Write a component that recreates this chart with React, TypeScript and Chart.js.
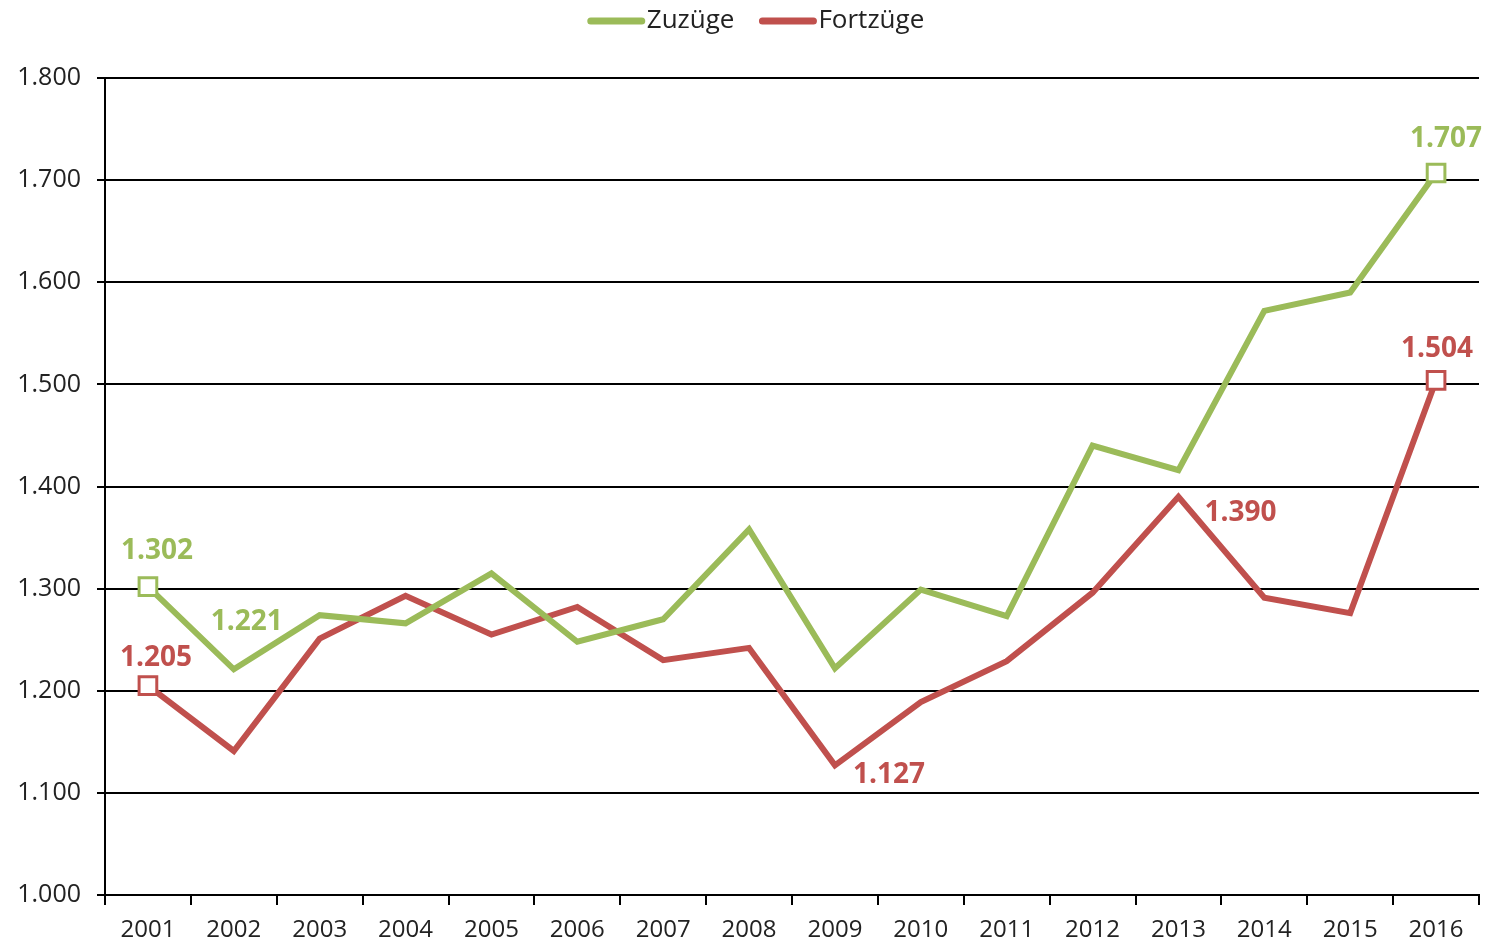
import React, { useEffect, useRef } from "react";
import { Chart, registerables } from "chart.js";

Chart.register(...registerables);

const years = ["2001","2002","2003","2004","2005","2006","2007","2008","2009","2010","2011","2012","2013","2014","2015","2016"];
const zuzuege = [1302, 1221, 1274, 1266, 1315, 1248, 1270, 1358, 1222, 1299, 1273, 1440, 1416, 1572, 1590, 1707];
const fortzuege = [1205, 1141, 1251, 1293, 1255, 1282, 1230, 1242, 1127, 1189, 1229, 1296, 1390, 1291, 1276, 1504];
const yTicks = [1000, 1100, 1200, 1300, 1400, 1500, 1600, 1700, 1800];

const GREEN = "#9BBB59";
const RED = "#C0504D";
const FONT = "'Open Sans', sans-serif";

// label: [datasetIndex, pointIndex, dx, dy]
const valueLabels: [number, number, number, number][] = [
  [0, 0, 9, -36],
  [0, 1, 13, -47],
  [0, 15, 10, -34],
  [1, 0, 8, -28],
  [1, 8, 54, 10],
  [1, 12, 62, 16],
  [1, 15, 1, -31],
];

const fmt = (v: number) => {
  const s = String(Math.round(v));
  return s.length > 3 ? s.slice(0, s.length - 3) + "." + s.slice(-3) : s;
};

const labelPlugin = {
  id: "valueLabels",
  afterDatasetsDraw(chart: any) {
    const ctx = chart.ctx;
    ctx.save();
    ctx.font = `bold 28px ${FONT}`;
    ctx.textAlign = "center";
    ctx.textBaseline = "middle";
    for (const [di, pi, dx, dy] of valueLabels) {
      const meta = chart.getDatasetMeta(di);
      const el = meta.data[pi];
      const ds = chart.data.datasets[di];
      ctx.fillStyle = ds.borderColor;
      ctx.fillText(fmt(ds.data[pi]), el.x + dx, el.y + dy);
    }
    ctx.restore();
  },
};

const legendPlugin = {
  id: "customLegend",
  afterDraw(chart: any) {
    const ctx = chart.ctx;
    ctx.save();
    ctx.font = `26px ${FONT}`;
    ctx.textBaseline = "middle";
    ctx.lineCap = "round";
    ctx.lineWidth = 7;
    const items = chart.data.datasets.map((d: any) => ({ label: d.label, color: d.borderColor }));
    const lineW = 57;
    const gap = 2;
    const sep = 25;
    const widths = items.map((it: any) => lineW + gap + ctx.measureText(it.label).width);
    const total = widths.reduce((a: number, b: number) => a + b, 0) + sep * (items.length - 1);
    let x = (chart.width - total) / 2 + 12;
    const y = 21;
    items.forEach((it: any, i: number) => {
      ctx.strokeStyle = it.color;
      ctx.beginPath();
      ctx.moveTo(x + 3, y);
      ctx.lineTo(x + lineW - 3, y);
      ctx.stroke();
      ctx.fillStyle = "#222";
      ctx.fillText(it.label, x + lineW + gap, y);
      x += widths[i] + sep;
    });
    ctx.restore();
  },
};

export default function App() {
  const ref = useRef<HTMLCanvasElement>(null);
  useEffect(() => {
    document.body.style.margin = "0";
    const last = years.length - 1;
    const ptRadius = (c: any) => (c.dataIndex === 0 || c.dataIndex === last ? 12.5 : 0);
    const chart = new Chart(ref.current!, {
      type: "line",
      data: {
        labels: years,
        datasets: [
          {
            label: "Zuzüge",
            data: zuzuege,
            borderColor: GREEN,
            backgroundColor: "#fff",
            borderWidth: 6,
            pointStyle: "rect",
            pointRadius: ptRadius,
            pointBorderWidth: 3,
            pointBackgroundColor: "#fff",
            pointBorderColor: GREEN,
            tension: 0,
          },
          {
            label: "Fortzüge",
            data: fortzuege,
            borderColor: RED,
            backgroundColor: "#fff",
            borderWidth: 6,
            pointStyle: "rect",
            pointRadius: ptRadius,
            pointBorderWidth: 3,
            pointBackgroundColor: "#fff",
            pointBorderColor: RED,
            tension: 0,
          },
        ],
      },
      options: {
        responsive: false,
        animation: false,
        layout: { autoPadding: false, padding: { top: 78, right: 9, left: 0, bottom: 0 } },
        plugins: {
          legend: { display: false },
          tooltip: { enabled: false },
        },
        scales: {
          x: {
            offset: true,
            afterFit: (scale: any) => {
              scale.height = 50;
            },
            grid: {
              offset: true,
              drawOnChartArea: false,
              drawTicks: true,
              tickLength: 10,
              color: "#000",
              lineWidth: 2,
            },
            border: { color: "#000", width: 2 },
            ticks: {
              color: "#222",
              font: { family: FONT, size: 24 },
              padding: 11,
              maxRotation: 0,
              autoSkip: false,
            },
          },
          y: {
            min: 1000,
            max: 1800,
            afterBuildTicks: (scale: any) => {
              scale.ticks = yTicks.map((v) => ({ value: v }));
            },
            afterFit: (scale: any) => {
              scale.width = 105;
            },
            grid: {
              color: "#000",
              lineWidth: 2,
              tickLength: 8,
            },
            border: { color: "#000", width: 2 },
            ticks: {
              color: "#222",
              font: { family: FONT, size: 25 },
              padding: 16,
              callback: (v: any) => fmt(Number(v)),
            },
          },
        },
      },
      plugins: [labelPlugin, legendPlugin],
    });
    return () => chart.destroy();
  }, []);
  return (
    <div style={{ width: 1488, height: 945 }}>
      <canvas ref={ref} width={1488} height={945} style={{ display: "block" }} />
    </div>
  );
}
